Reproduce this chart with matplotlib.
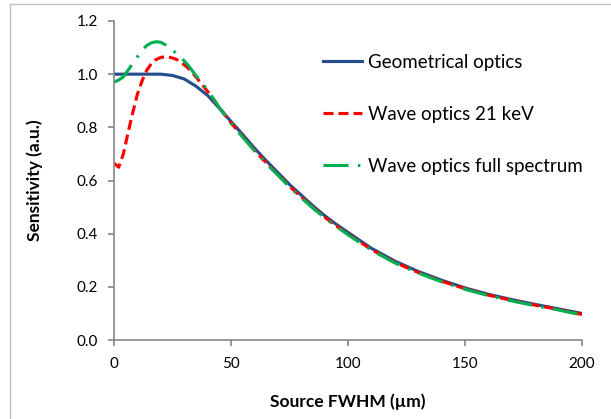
import numpy as np
import matplotlib
matplotlib.use("Agg")
from matplotlib import pyplot as plt
from matplotlib.lines import Line2D

plt.rcParams['font.family'] = ['Lato', 'DejaVu Sans']

# Geometrical optics
x_geo = [0, 10, 20, 25, 30, 35, 40, 45, 50, 55, 60, 65, 70, 75, 80, 85, 90, 95,
         100, 110, 120, 130, 140, 150, 160, 170, 180, 190, 200]
y_geo = [1.0, 1.0, 1.0, 0.995, 0.982, 0.955, 0.92, 0.872, 0.822, 0.773, 0.722,
         0.675, 0.63, 0.585, 0.545, 0.505, 0.468, 0.435, 0.405, 0.345, 0.297,
         0.258, 0.225, 0.196, 0.172, 0.152, 0.134, 0.117, 0.100]

# Wave optics 21 keV
x_w21 = [0, 2, 4, 6, 8, 10, 12, 14, 16, 18, 20, 22, 24, 26, 28, 30, 32, 35, 40,
         45, 50, 55, 60, 65, 70, 75, 80, 85, 90, 95, 100, 110, 120, 130, 140,
         150, 160, 170, 180, 190, 200]
y_w21 = [0.665, 0.650, 0.70, 0.78, 0.855, 0.925, 0.975, 1.015, 1.04, 1.055,
         1.063, 1.065, 1.063, 1.058, 1.05, 1.035, 1.02, 0.99, 0.935, 0.875,
         0.817, 0.766, 0.714, 0.667, 0.622, 0.578, 0.538, 0.499, 0.462, 0.429,
         0.399, 0.340, 0.292, 0.254, 0.221, 0.193, 0.169, 0.149, 0.131, 0.115,
         0.096]

# Wave optics full spectrum
x_wfs = [0, 2, 4, 6, 8, 10, 12, 14, 16, 18, 20, 22, 24, 26, 28, 30, 32, 35, 40,
         45, 50, 55, 60, 65, 70, 75, 80, 85, 90, 95, 100, 110, 120, 130, 140,
         150, 160, 170, 180, 190, 200]
y_wfs = [0.97, 0.978, 0.99, 1.015, 1.04, 1.065, 1.09, 1.108, 1.118, 1.122,
         1.12, 1.11, 1.098, 1.083, 1.068, 1.05, 1.03, 0.995, 0.94, 0.875,
         0.815, 0.763, 0.712, 0.665, 0.62, 0.576, 0.535, 0.496, 0.46, 0.427,
         0.396, 0.338, 0.29, 0.252, 0.219, 0.191, 0.167, 0.147, 0.129, 0.113,
         0.094]

fig = plt.figure(figsize=(6.11, 4.19), dpi=100)
ax = fig.add_axes([0.1866, 0.1885, 0.7659, 0.7614])

ax.plot(x_geo, y_geo, color='#254E8C', lw=2.25, label='Geometrical optics')
l2, = ax.plot(x_w21, y_w21, color='#FF0000', lw=2.25, label='Wave optics 21 keV')
l2.set_dashes([3.2, 1.6])
l3, = ax.plot(x_wfs, y_wfs, color='#00B050', lw=2.25,
              label='Wave optics full spectrum')
l3.set_dashes([8, 3, 0.8, 3])

ax.set_xlim(0, 200)
ax.set_ylim(0, 1.2)
ax.set_xticks([0, 50, 100, 150, 200])
ax.set_yticks(np.arange(0, 1.21, 0.2))
ax.yaxis.set_major_formatter(matplotlib.ticker.FormatStrFormatter('%.1f'))
for s in ['top', 'right']:
    ax.spines[s].set_visible(False)
for s in ['left', 'bottom']:
    ax.spines[s].set_color('#868686')
    ax.spines[s].set_linewidth(1.2)
ax.tick_params(colors='#868686', labelcolor='black', labelsize=11,
               length=4.5, width=1.2, direction='out')
ax.tick_params(axis='y', pad=7)
ax.tick_params(axis='x', pad=8)

ax.set_xlabel('Source FWHM (µm)', fontsize=12.5, fontweight='bold', labelpad=16)
ax.set_ylabel('Sensitivity (a.u.)', fontsize=12.5, fontweight='bold', labelpad=24)

leg = ax.legend(loc='upper left', bbox_to_anchor=(0.41, 0.95), frameon=False,
                fontsize=13.5, handlelength=2.1, handletextpad=0.3,
                labelspacing=1.87)

# chart-area border
fig.add_artist(Line2D([10 / 611, 10 / 611], [0, 1 - 4 / 419], color='#BFBFBF', lw=1))
fig.add_artist(Line2D([10 / 611, 1], [1 - 4 / 419, 1 - 4 / 419], color='#BFBFBF', lw=1))

fig.savefig('out.png', dpi=100)
